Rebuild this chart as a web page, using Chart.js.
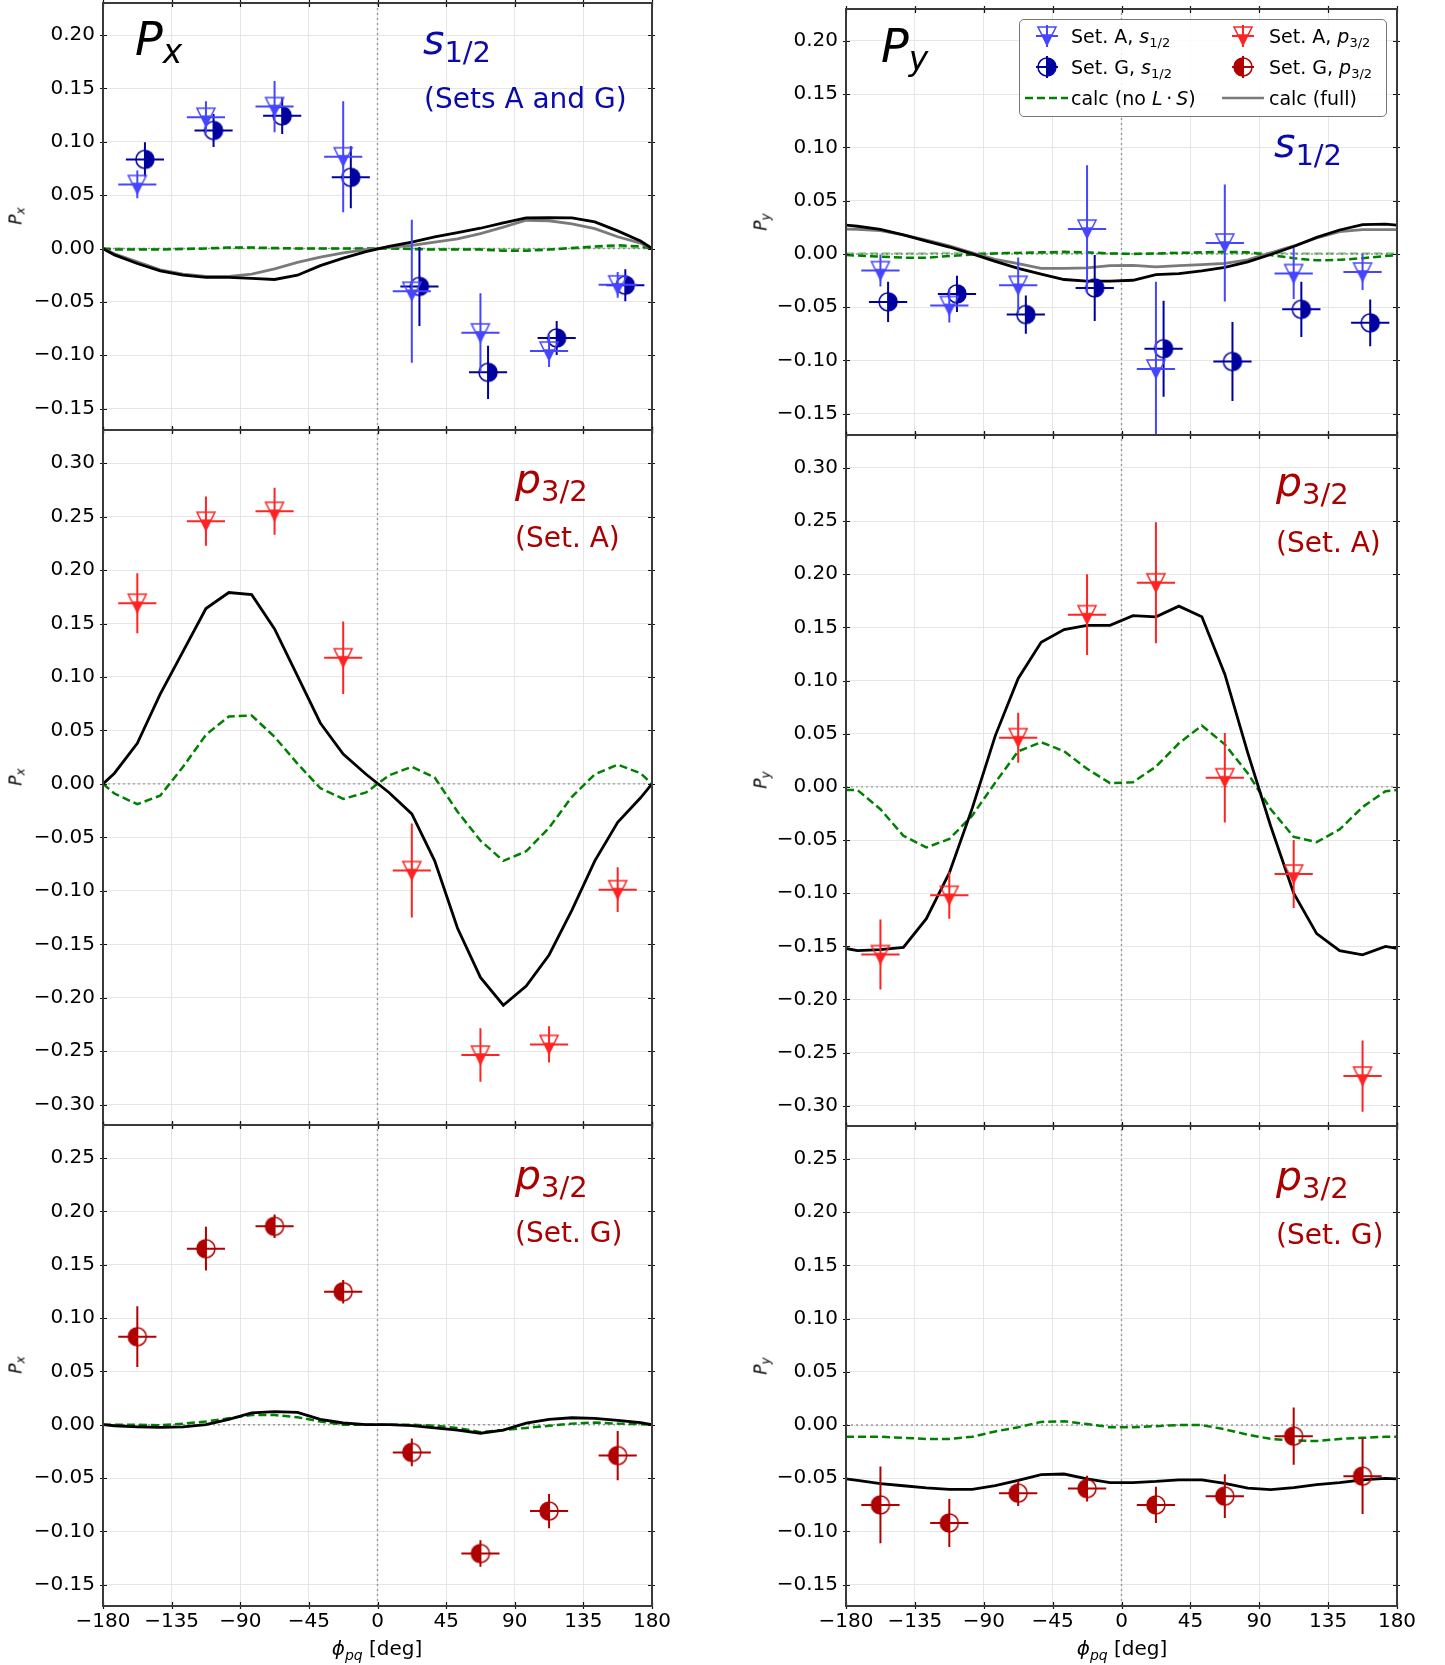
<!DOCTYPE html>
<html>
<head>
<meta charset="utf-8">
<title>Px, Py vs phi_pq</title>
<script src="https://cdn.jsdelivr.net/npm/chart.js@4.4.1/dist/chart.umd.min.js"></script>
<style>
  html, body { margin: 0; padding: 0; background: #fff; }
  body { position: relative; width: 1445px; height: 1665px; overflow: hidden; font-family: "DejaVu Sans", sans-serif; }
  canvas { position: absolute; }
  .txt { position: absolute; white-space: nowrap; line-height: 1; }
  .sb { position: relative; }
  .rot { position: absolute; white-space: nowrap; line-height: 1; font-size: 17px; transform: translate(-50%, -50%) rotate(-90deg); }
  .ctr { position: absolute; white-space: nowrap; line-height: 1; font-size: 20px; transform: translate(-50%, -50%); }
  .legend { position: absolute; left: 1019px; top: 19px; width: 366px; height: 96px; border: 1.5px solid #777; border-radius: 5px; background: rgba(255,255,255,0.85); }
</style>
</head>
<body>
<script>
// ---------------- data ----------------
const phiTicks = [-180, -135, -90, -45, 0, 45, 90, 135, 180];
const yTicksS12 = [-0.15, -0.10, -0.05, 0, 0.05, 0.10, 0.15, 0.20];
const yTicksP32A = [-0.30, -0.25, -0.20, -0.15, -0.10, -0.05, 0, 0.05, 0.10, 0.15, 0.20, 0.25, 0.30];
const yTicksP32G = [-0.15, -0.10, -0.05, 0, 0.05, 0.10, 0.15, 0.20, 0.25];

// bin centres of the measured points (set G shifted by +5 deg in the s1/2 panels)
const phiBins = [-157.5, -112.5, -67.5, -22.5, 22.5, 67.5, 112.5, 157.5];
const phiBinsShift = [-152.5, -107.5, -62.5, -17.5, 27.5, 72.5, 117.5, 162.5];
const phiHalfWidth = 12.5;

// s1/2
const pxS12A    = [0.060, 0.123, 0.133, 0.086, -0.040, -0.079, -0.096, -0.034];
const pxS12AErr = [0.013, 0.015, 0.024, 0.052, 0.067, 0.037, 0.015, 0.012];
const pxS12G    = [0.0835, 0.1106, 0.1243, 0.0667, -0.0355, -0.116, -0.0838, -0.0343];
const pxS12GErr = [0.016, 0.0155, 0.017, 0.029, 0.037, 0.025, 0.016, 0.015];
const pyS12A    = [-0.0156, -0.0484, -0.0294, 0.0234, -0.108, 0.0103, -0.0184, -0.0169];
const pyS12AErr = [0.015, 0.016, 0.026, 0.060, 0.082, 0.055, 0.024, 0.017];
const pyS12G    = [-0.045, -0.0375, -0.0569, -0.0319, -0.089, -0.101, -0.052, -0.0647];
const pyS12GErr = [0.019, 0.017, 0.018, 0.031, 0.045, 0.037, 0.026, 0.022];

// p3/2, set A
const pxP32A    = [0.169, 0.2457, 0.255, 0.118, -0.081, -0.2536, -0.2436, -0.0989];
const pxP32AErr = [0.028, 0.023, 0.022, 0.034, 0.044, 0.025, 0.017, 0.021];
const pyP32A    = [-0.1577, -0.102, 0.0463, 0.162, 0.192, 0.0086, -0.082, -0.272];
const pyP32AErr = [0.033, 0.022, 0.0235, 0.038, 0.057, 0.042, 0.032, 0.0335];

// p3/2, set G
const pxP32G    = [0.0825, 0.165, 0.186, 0.1247, -0.026, -0.1208, -0.081, -0.029];
const pxP32GErr = [0.0285, 0.0205, 0.011, 0.011, 0.013, 0.0125, 0.016, 0.023];
const pyP32G    = [-0.075, -0.092, -0.064, -0.0597, -0.075, -0.0668, -0.0104, -0.048];
const pyP32GErr = [0.036, 0.0225, 0.012, 0.012, 0.017, 0.0205, 0.027, 0.0355];

// calculations
const phiCalc = [-180, -172.5, -157.5, -142.5, -127.5, -112.5, -97.5, -82.5, -67.5, -52.5, -37.5, -22.5, -7.5,
                 7.5, 22.5, 37.5, 52.5, 67.5, 82.5, 97.5, 112.5, 127.5, 142.5, 157.5, 172.5, 180];

const calcPxS12Full  = [0, -0.006, -0.014, -0.021, -0.025, -0.027, -0.027, -0.028, -0.029, -0.025, -0.016, -0.009, -0.003,
                        0.002, 0.006, 0.011, 0.015, 0.019, 0.024, 0.0287, 0.029, 0.0287, 0.025, 0.0165, 0.007, 0];
const calcPxS12FullG = [0, -0.005, -0.0125, -0.020, -0.024, -0.026, -0.026, -0.024, -0.019, -0.013, -0.008, -0.004, -0.001,
                        0.001, 0.003, 0.006, 0.009, 0.014, 0.020, 0.0265, 0.026, 0.023, 0.0187, 0.011, 0.005, 0];
const calcPxS12NoLS  = [0, -0.001, -0.001, -0.001, -0.0005, 0, 0.001, 0.001, 0.0005, 0, 0, 0, 0,
                        0, -0.0005, -0.001, -0.001, -0.001, -0.002, -0.002, -0.001, 0.0005, 0.002, 0.003, 0.002, 0];
const calcPxS12NoLSG = [0, 0, -0.0005, -0.0005, 0, 0.0005, 0.0005, 0.0005, 0, 0, 0, 0, 0,
                        0, 0, -0.0005, -0.0005, -0.0005, -0.001, -0.001, -0.0005, 0, 0.001, 0.0015, 0.001, 0];

const calcPyS12Full  = [0.027, 0.026, 0.023, 0.018, 0.012, 0.0065, 0.000, -0.007, -0.0135, -0.019, -0.024, -0.0255, -0.0255,
                        -0.0247, -0.0194, -0.0184, -0.0158, -0.0125, -0.0075, -0.0005, 0.007, 0.0155, 0.0225, 0.0275, 0.028, 0.027];
const calcPyS12FullG = [0.0234, 0.023, 0.022, 0.018, 0.013, 0.0075, 0.001, -0.005, -0.009, -0.0135, -0.0135, -0.013, -0.011,
                        -0.0107, -0.0122, -0.011, -0.010, -0.0088, -0.0055, 0.001, 0.0075, 0.015, 0.021, 0.0228, 0.0228, 0.0228];
const calcPyS12NoLS  = [-0.001, -0.0015, -0.0025, -0.0035, -0.0035, -0.002, -0.0005, 0.0005, 0.001, 0.0015, 0.002, 0.0015, 0.0005,
                        0, 0.0005, 0.001, 0.0015, 0.002, 0.0015, -0.001, -0.004, -0.006, -0.0055, -0.004, -0.002, -0.001];
const calcPyS12NoLSG = [0.0005, 0.0005, 0.0005, 0.0005, 0.0005, 0.001, 0.001, 0.001, 0.001, 0.001, 0.001, 0.001, 0.0005,
                        0.0005, 0.0005, 0.001, 0.001, 0.001, 0.001, 0.001, 0.0005, 0.0005, 0.0005, 0.0005, 0.0005, 0.0005];

const calcPxP32AFull = [0, 0.010, 0.038, 0.084, 0.124, 0.164, 0.179, 0.177, 0.145, 0.101, 0.057, 0.028, 0.009,
                        -0.008, -0.028, -0.072, -0.135, -0.181, -0.207, -0.189, -0.160, -0.118, -0.072, -0.036, -0.013, 0];
const calcPxP32ANoLS = [0, -0.009, -0.019, -0.011, 0.016, 0.046, 0.063, 0.064, 0.044, 0.019, -0.004, -0.014, -0.008,
                        0.008, 0.016, 0.006, -0.026, -0.053, -0.072, -0.063, -0.041, -0.012, 0.009, 0.018, 0.010, 0];
const calcPyP32AFull = [-0.152, -0.154, -0.153, -0.151, -0.124, -0.081, -0.020, 0.048, 0.102, 0.136, 0.148, 0.152, 0.152,
                        0.161, 0.160, 0.170, 0.160, 0.106, 0.032, -0.037, -0.100, -0.138, -0.154, -0.158, -0.150, -0.152];
const calcPyP32ANoLS = [-0.003, -0.003, -0.021, -0.046, -0.057, -0.049, -0.027, 0.004, 0.0335, 0.042, 0.0335, 0.017, 0.0035,
                        0.0044, 0.019, 0.041, 0.0576, 0.040, 0.0128, -0.021, -0.047, -0.052, -0.040, -0.019, -0.004, -0.003];

const calcPxP32GFull = [0, -0.001, -0.002, -0.0026, -0.002, 0, 0.005, 0.011, 0.0123, 0.0115, 0.005, 0.0016, 0,
                        0, -0.0008, -0.003, -0.005, -0.008, -0.005, 0.0015, 0.005, 0.0065, 0.006, 0.004, 0.002, 0];
const calcPxP32GNoLS = [0, 0, 0, -0.0005, 0.001, 0.003, 0.006, 0.009, 0.009, 0.007, 0.003, 0, 0,
                        0, 0, -0.001, -0.003, -0.007, -0.005, -0.003, -0.001, 0.001, 0.002, 0.001, 0.0005, 0];
const calcPyP32GFull = [-0.0505, -0.052, -0.055, -0.057, -0.059, -0.0605, -0.0605, -0.057, -0.052, -0.0466, -0.046, -0.0505, -0.054,
                        -0.054, -0.053, -0.0515, -0.0515, -0.0548, -0.0593, -0.0606, -0.0587, -0.056, -0.054, -0.0515, -0.050, -0.0505];
const calcPyP32GNoLS = [-0.011, -0.011, -0.011, -0.012, -0.013, -0.013, -0.011, -0.006, -0.002, 0.003, 0.0035, 0.001, -0.002,
                        -0.002, -0.001, 0, 0, -0.004, -0.009, -0.013, -0.0145, -0.015, -0.013, -0.012, -0.011, -0.011];

// ---------------- styles ----------------
const C = {
  aS: '#4646ff', gS: '#0000a0', aP: '#ff2424', gP: '#b00000',
  black: '#000000', gray: '#7a7a7a', green: '#008000', lgreen: 'rgba(0,128,0,0.4)',
  sText: '#0a0aaa', pText: '#aa0000'
};
const PAGE_H = 1665;
const COLS = [
  { left: 0, width: 700, yw: 103, padR: 48 },
  { left: 740, width: 705, yw: 106, padR: 48 }
];
const GREEN_DASH = [8, 4];
const PAD = 24;   // must exceed half a tick label + tick padding, so Chart.js adds nothing

Chart.defaults.font.family = '"DejaVu Sans", sans-serif';

const fmtNum = v => (v < -1e-9 ? '\u2212' : '') + Math.abs(v).toFixed(2);
const fmtDeg = v => (v < 0 ? '\u2212' : '') + Math.abs(v);
const pts = (xs, ys) => xs.map((x, i) => ({ x: x, y: ys[i] }));
const errPts = (xs, ys, es) => xs.map((x, i) => ({ x: x, y: ys[i], xe: phiHalfWidth, ye: es[i] }));

// half-filled markers drawn once into small canvases
function drawMarker(g, kind, color, m, r) {
  g.lineWidth = 1.5;
  g.strokeStyle = color;
  g.fillStyle = color;
  if (kind === 'tri') {
    // down triangle, tip part filled (down to 1/5 above centre, like mpl fillstyle='bottom')
    g.beginPath();
    g.moveTo(m - 0.6 * r, m - 0.2 * r); g.lineTo(m + 0.6 * r, m - 0.2 * r); g.lineTo(m, m + r);
    g.closePath(); g.fill();
    g.beginPath();
    g.moveTo(m - r, m - r); g.lineTo(m + r, m - r); g.lineTo(m, m + r);
    g.closePath(); g.stroke();
  } else {
    const right = kind === 'circR';
    g.beginPath();
    g.moveTo(m, m - r);
    g.arc(m, m, r, -Math.PI / 2, Math.PI / 2, !right);
    g.closePath(); g.fill();
    g.beginPath();
    g.arc(m, m, r, 0, 2 * Math.PI);
    g.stroke();
  }
}
function marker(kind, color, r) {
  const c = document.createElement('canvas');
  const s = Math.ceil(2 * r + 4);
  c.width = s; c.height = s;
  drawMarker(c.getContext('2d'), kind, color, s / 2, r);
  return c;
}

// error bars under each marker dataset
const errorBars = {
  id: 'errorBars',
  beforeDatasetDraw(chart, args) {
    const ds = chart.data.datasets[args.index];
    if (!ds.errColor) return;
    const { ctx, chartArea: a } = chart;
    const x = chart.scales.x, y = chart.scales.y;
    ctx.save();
    ctx.beginPath();
    ctx.rect(a.left, a.top, a.right - a.left, a.bottom - a.top);
    ctx.clip();
    ctx.strokeStyle = ds.errColor;
    ctx.lineWidth = 2;
    ds.data.forEach(p => {
      const px = x.getPixelForValue(p.x), py = y.getPixelForValue(p.y);
      ctx.beginPath();
      ctx.moveTo(x.getPixelForValue(p.x - p.xe), py);
      ctx.lineTo(x.getPixelForValue(p.x + p.xe), py);
      ctx.moveTo(px, y.getPixelForValue(p.y - p.ye));
      ctx.lineTo(px, y.getPixelForValue(p.y + p.ye));
      ctx.stroke();
    });
    ctx.restore();
  }
};

// box + in/out ticks on all four sides
const frame = {
  id: 'frame',
  afterDraw(chart) {
    const { ctx, chartArea: a } = chart;
    const x = chart.scales.x, y = chart.scales.y;
    ctx.save();
    ctx.strokeStyle = '#111';
    ctx.lineWidth = 1.2;
    ctx.beginPath();
    x.ticks.forEach(t => {
      const px = Math.round(x.getPixelForValue(t.value)) + 0.5;
      ctx.moveTo(px, a.bottom - 4); ctx.lineTo(px, a.bottom + 3);
      ctx.moveTo(px, a.top - 3); ctx.lineTo(px, a.top + 4);
    });
    y.ticks.forEach(t => {
      const py = Math.round(y.getPixelForValue(t.value)) + 0.5;
      ctx.moveTo(a.left - 3, py); ctx.lineTo(a.left + 4, py);
      ctx.moveTo(a.right - 4, py); ctx.lineTo(a.right + 3, py);
    });
    ctx.stroke();
    ctx.strokeStyle = '#3a3a3a';
    ctx.lineWidth = 2;
    ctx.strokeRect(a.left, a.top, a.right - a.left, a.bottom - a.top);
    ctx.restore();
  }
};

function panelChart(p) {
  const col = COLS[p.col];
  const cTop = p.top - PAD;
  const xH = p.xLabels ? PAGE_H - p.bottom : PAD;
  const h = p.bottom + xH - cTop;
  const cv = document.createElement('canvas');
  cv.width = col.width; cv.height = h;
  cv.style.left = col.left + 'px'; cv.style.top = cTop + 'px';
  cv.style.width = col.width + 'px'; cv.style.height = h + 'px';
  document.body.appendChild(cv);

  const yMin = p.range[0], yMax = p.range[1];
  const datasets = [];
  p.points.forEach(s => datasets.push({
    type: 'scatter', data: errPts(s.x, s.y, s.e),
    pointStyle: marker(s.kind, s.color, 9), pointRadius: 9,
    errColor: s.color, order: 0
  }));
  p.curves.forEach((c, i) => datasets.push({
    type: 'line', data: pts(phiCalc, c.y),
    borderColor: c.color, borderWidth: c.dash ? 2.5 : 2.8, borderDash: c.dash || [],
    pointRadius: 0, fill: false, tension: 0, order: 9 - i
  }));
  datasets.push({
    type: 'line', data: [{ x: -180, y: 0 }, { x: 180, y: 0 }],
    borderColor: '#9a9a9a', borderWidth: 1.4, borderDash: [2, 3], pointRadius: 0, order: 20
  });
  datasets.push({
    type: 'line', data: [{ x: 0, y: yMin }, { x: 0, y: yMax }],
    borderColor: '#9a9a9a', borderWidth: 1.4, borderDash: [2, 3], pointRadius: 0, order: 20
  });

  new Chart(cv, {
    type: 'scatter',
    data: { datasets: datasets },
    plugins: [errorBars, frame],
    options: {
      responsive: false,
      animation: false,
      devicePixelRatio: 1,
      layout: { padding: { left: 0, right: col.padR, top: PAD, bottom: 0 } },
      plugins: { legend: { display: false }, tooltip: { enabled: false } },
      scales: {
        x: {
          type: 'linear', min: -180, max: 180,
          afterBuildTicks: a => { a.ticks = phiTicks.map(v => ({ value: v })); },
          afterFit: a => { a.height = xH; },
          grid: { color: '#e6e6e6', lineWidth: 1, drawTicks: false },
          border: { display: false },
          ticks: {
            display: p.xLabels, padding: 4, maxRotation: 0, autoSkip: false,
            color: '#000', font: { size: 20 }, callback: v => fmtDeg(v)
          }
        },
        y: {
          type: 'linear', min: yMin, max: yMax,
          afterBuildTicks: a => { a.ticks = p.yTicks.map(v => ({ value: v })); },
          afterFit: a => { a.width = col.yw; },
          grid: { color: '#e6e6e6', lineWidth: 1, drawTicks: false },
          border: { display: false },
          ticks: { padding: 8, color: '#000', font: { size: 20 }, callback: v => fmtNum(v) }
        }
      }
    }
  });
}

const panels = [
  { col: 0, top: 3, bottom: 430, range: [-0.17, 0.23], yTicks: yTicksS12, xLabels: false,
    points: [
      { x: phiBins, y: pxS12A, e: pxS12AErr, kind: 'tri', color: C.aS },
      { x: phiBinsShift, y: pxS12G, e: pxS12GErr, kind: 'circR', color: C.gS }
    ],
    curves: [
      { y: calcPxS12NoLSG, color: C.lgreen, dash: GREEN_DASH },
      { y: calcPxS12NoLS, color: C.green, dash: GREEN_DASH },
      { y: calcPxS12FullG, color: C.gray },
      { y: calcPxS12Full, color: C.black }
    ] },
  { col: 1, top: 9, bottom: 435, range: [-0.17, 0.23], yTicks: yTicksS12, xLabels: false,
    points: [
      { x: phiBins, y: pyS12A, e: pyS12AErr, kind: 'tri', color: C.aS },
      { x: phiBinsShift, y: pyS12G, e: pyS12GErr, kind: 'circR', color: C.gS }
    ],
    curves: [
      { y: calcPyS12NoLSG, color: C.lgreen, dash: GREEN_DASH },
      { y: calcPyS12NoLS, color: C.green, dash: GREEN_DASH },
      { y: calcPyS12FullG, color: C.gray },
      { y: calcPyS12Full, color: C.black }
    ] },
  { col: 0, top: 430, bottom: 1125, range: [-0.319, 0.331], yTicks: yTicksP32A, xLabels: false,
    points: [{ x: phiBins, y: pxP32A, e: pxP32AErr, kind: 'tri', color: C.aP }],
    curves: [
      { y: calcPxP32ANoLS, color: C.green, dash: GREEN_DASH },
      { y: calcPxP32AFull, color: C.black }
    ] },
  { col: 1, top: 435, bottom: 1126, range: [-0.319, 0.331], yTicks: yTicksP32A, xLabels: false,
    points: [{ x: phiBins, y: pyP32A, e: pyP32AErr, kind: 'tri', color: C.aP }],
    curves: [
      { y: calcPyP32ANoLS, color: C.green, dash: GREEN_DASH },
      { y: calcPyP32AFull, color: C.black }
    ] },
  { col: 0, top: 1125, bottom: 1606, range: [-0.17, 0.281], yTicks: yTicksP32G, xLabels: true,
    points: [{ x: phiBins, y: pxP32G, e: pxP32GErr, kind: 'circL', color: C.gP }],
    curves: [
      { y: calcPxP32GNoLS, color: C.green, dash: GREEN_DASH },
      { y: calcPxP32GFull, color: C.black }
    ] },
  { col: 1, top: 1126, bottom: 1606, range: [-0.17, 0.281], yTicks: yTicksP32G, xLabels: true,
    points: [{ x: phiBins, y: pyP32G, e: pyP32GErr, kind: 'circL', color: C.gP }],
    curves: [
      { y: calcPyP32GNoLS, color: C.green, dash: GREEN_DASH },
      { y: calcPyP32GFull, color: C.black }
    ] }
];
panels.forEach(panelChart);

// ---------------- text ----------------
function txt(html, x, base, size, color) {
  const d = document.createElement('div');
  d.className = 'txt';
  d.innerHTML = html;
  d.style.left = x + 'px';
  d.style.top = (base - 0.846 * size).toFixed(1) + 'px';
  d.style.fontSize = size + 'px';
  d.style.color = color || '#000';
  document.body.appendChild(d);
}
function placed(cls, html, x, y) {
  const d = document.createElement('div');
  d.className = cls;
  d.innerHTML = html;
  d.style.left = x + 'px';
  d.style.top = y + 'px';
  document.body.appendChild(d);
}
const sub = (s, size, drop) => `<span class="sb" style="font-size:${size}px;top:${drop}px">${s}</span>`;

// axis titles
[[16, 216], [16, 777], [16, 1365]].forEach(([x, y]) => placed('rot', `<i>P</i>${sub('<i>x</i>', 12, 3)}`, x, y));
[[761, 222], [761, 780], [761, 1366]].forEach(([x, y]) => placed('rot', `<i>P</i>${sub('<i>y</i>', 12, 3)}`, x, y));
placed('ctr', `<i>\u03d5</i>${sub('<i>pq</i>', 14, 5)} [deg]`, 377, 1648);
placed('ctr', `<i>\u03d5</i>${sub('<i>pq</i>', 14, 5)} [deg]`, 1122, 1648);

// panel annotations
txt(`<i>P</i>${sub('<i>x</i>', 33, 8)}`, 135, 55, 46);
txt(`<i>P</i>${sub('<i>y</i>', 33, 8)}`, 881, 62, 46);
txt(`<i>s</i>${sub('1/2', 29, 8)}`, 423, 55, 41, C.sText);
txt('(Sets A and G)', 424, 109, 28, C.sText);
txt(`<i>s</i>${sub('1/2', 29, 8)}`, 1274, 158, 41, C.sText);
txt(`<i>p</i>${sub('3/2', 29, 8)}`, 515, 494, 41, C.pText);
txt('(Set. A)', 515, 548, 28, C.pText);
txt(`<i>p</i>${sub('3/2', 29, 8)}`, 1276, 497, 41, C.pText);
txt('(Set. A)', 1276, 553, 28, C.pText);
txt(`<i>p</i>${sub('3/2', 29, 8)}`, 515, 1190, 41, C.pText);
txt('(Set. G)', 515, 1243, 28, C.pText);
txt(`<i>p</i>${sub('3/2', 29, 8)}`, 1276, 1191, 41, C.pText);
txt('(Set. G)', 1276, 1245, 28, C.pText);

// ---------------- legend ----------------
const leg = document.createElement('div');
leg.className = 'legend';
document.body.appendChild(leg);

function legendIcon(kind, color, cx, cy) {
  const c = document.createElement('canvas');
  c.width = 30; c.height = 30;
  c.style.left = (cx - 15) + 'px'; c.style.top = (cy - 15) + 'px';
  const g = c.getContext('2d');
  g.strokeStyle = color; g.lineWidth = 2;
  g.beginPath();
  g.moveTo(4, 15); g.lineTo(26, 15);
  g.moveTo(15, 4); g.lineTo(15, 26);
  g.stroke();
  drawMarker(g, kind, color, 15, 9);
  document.body.appendChild(c);
}
function legendLine(color, dash, x0, x1, y) {
  const c = document.createElement('canvas');
  c.width = x1 - x0; c.height = 6;
  c.style.left = x0 + 'px'; c.style.top = (y - 3) + 'px';
  const g = c.getContext('2d');
  g.strokeStyle = color; g.lineWidth = 2.5; g.setLineDash(dash);
  g.beginPath(); g.moveTo(0, 3); g.lineTo(x1 - x0, 3); g.stroke();
  document.body.appendChild(c);
}

legendIcon('tri', C.aS, 1047, 36);
txt(`Set. A, <i>s</i>${sub('1/2', 13, 4)}`, 1071, 43, 19);
legendIcon('tri', C.aP, 1243, 36);
txt(`Set. A, <i>p</i>${sub('3/2', 13, 4)}`, 1269, 43, 19);
legendIcon('circR', C.gS, 1047, 67);
txt(`Set. G, <i>s</i>${sub('1/2', 13, 4)}`, 1071, 74, 19);
legendIcon('circL', C.gP, 1243, 67);
txt(`Set. G, <i>p</i>${sub('3/2', 13, 4)}`, 1269, 74, 19);
legendLine(C.green, GREEN_DASH, 1025, 1068, 98);
txt('calc (no <i>L</i>\u2009\u00b7\u2009<i>S</i>)', 1071, 105, 19);
legendLine(C.gray, [], 1222, 1264, 98);
txt('calc (full)', 1269, 105, 19);
</script>
</body>
</html>
